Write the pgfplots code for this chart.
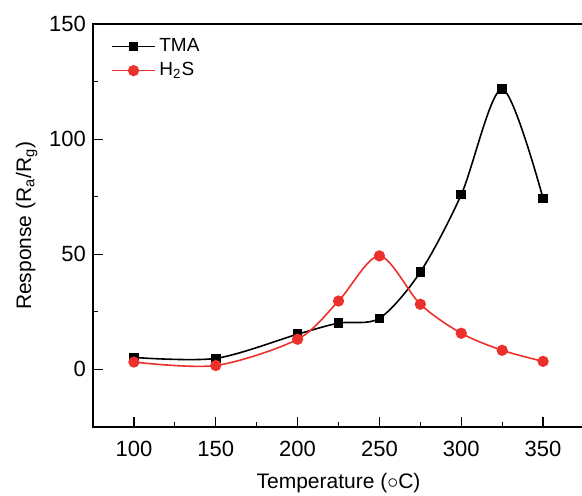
\documentclass[border=0pt]{standalone}
\usepackage{pgfplots}
\pgfplotsset{compat=1.18}
\usepackage{fontspec}
\setmainfont{Liberation Sans}
\definecolor{hred}{RGB}{236,48,44}
\begin{document}
\begin{tikzpicture}
\begin{axis}[
  name=ax,
  scale only axis,
  width=245.5pt, height=201.5pt,
  xmin=75, xmax=375, ymin=-25, ymax=150,
  xtick={100,150,...,350}, ytick={0,50,100,150},
  minor xtick={125,175,...,325}, minor ytick={-25,25,75,125},
  tick pos=left,
  tick align=inside,
  major tick length=5pt, minor tick length=2.5pt,
  every tick/.style={black, line width=0.6pt},
  axis line style={line width=0.8pt},
  /pgf/number format/assume math mode=true,
  ticklabel style={font=\fontsize{11}{13}\selectfont},
  xticklabel style={yshift=-3.5pt},
  label style={font=\fontsize{10.5}{12}\selectfont},
  xlabel={Temperature ($\circ$C)},
  ylabel={Response (R\textsubscript{a}/R\textsubscript{g})},
  xlabel style={yshift=-1.5pt},
  ylabel style={yshift=-1pt},
  legend style={draw=none, fill=none, at={(0.025,0.985)}, anchor=north west,
    font=\fontsize{9.5}{11}\selectfont, row sep=0pt},
  legend cell align=left,
  legend image code/.code={\draw[mark repeat=2,mark phase=2] plot coordinates {(0cm,0cm) (0.37cm,0cm) (0.74cm,0cm)};},
]
\addplot[black, line width=0.8pt, smooth, mark=square*, mark size=2pt, mark options={solid}]
 coordinates {(100,5.2) (150,4.8) (200,15.3) (225,20.1) (250,22.2) (275,42.3) (300,75.9) (325,121.7) (350,74.2)};
\addlegendentry{TMA}
\addplot[hred, line width=0.8pt, smooth, mark=*, mark size=2.4pt, mark options={solid, fill=hred}]
 coordinates {(100,3.2) (150,1.7) (200,13.1) (225,29.7) (250,49.3) (275,28.3) (300,15.7) (325,8.3) (350,3.5)};
\addlegendentry{H\textsubscript{2}S}
\end{axis}
\pgfresetboundingbox
\path ([xshift=-46.5pt,yshift=-34.5pt]ax.south west) rectangle ([xshift=244.5pt,yshift=12pt]ax.north west);
\end{tikzpicture}
\end{document}
